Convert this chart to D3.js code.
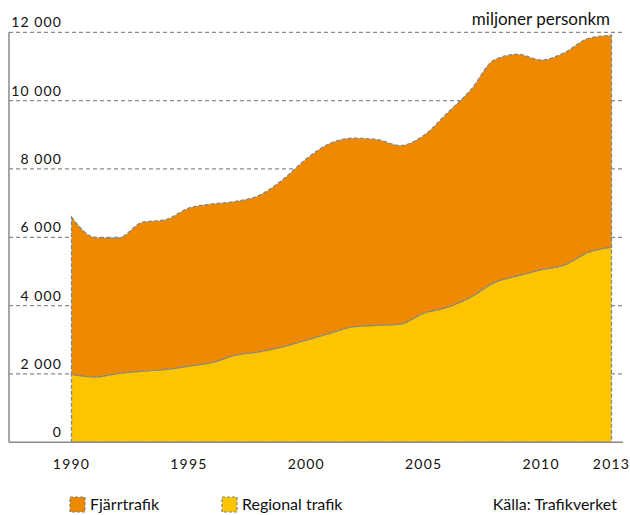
<!DOCTYPE html>
<html>
<head>
<meta charset="utf-8">
<script src="https://cdn.jsdelivr.net/npm/d3@7"></script>
<style>
  body { margin: 0; background: #fff; }
  text { font-family: Lato, "Open Sans", sans-serif; fill: #111; }
</style>
</head>
<body>
<div id="chart"></div>
<script>
// Data (miljoner personkm)
const years = d3.range(1990, 2014);
const regional = [1986, 1917, 2015, 2083, 2132, 2230, 2338, 2553, 2650, 2796, 2993, 3189,
  3383, 3424, 3462, 3776, 3952, 4246, 4675, 4871, 5047, 5194, 5555, 5713];
const total = [6593, 5995, 5977, 6435, 6514, 6857, 6975, 7051, 7227, 7688, 8295, 8744,
  8900, 8862, 8685, 8979, 9630, 10308, 11189, 11356, 11189, 11405, 11816, 11913];
const fjarr = total.map((t, i) => t - regional[i]);
const yTicks = [0, 2000, 4000, 6000, 8000, 10000, 12000];
const xTicks = [1990, 1995, 2000, 2005, 2010, 2013];
const seriesNames = ["Regional trafik", "Fjärrtrafik"];
const colors = { "Regional trafik": "#fdc500", "Fjärrtrafik": "#ef8a00" };

const W = 630, H = 515;
const plotLeft = 9, plotRight = 623, plotTop = 32.3, plotBottom = 442.3;

const svg = d3.select("#chart").append("svg").attr("width", W).attr("height", H);

const x = d3.scaleLinear().domain([1990, 2013]).range([71.5, 611.5]);
const y = d3.scaleLinear().domain([0, 12000]).range([plotBottom, plotTop]);

const table = years.map((yr, i) => ({ year: yr, "Regional trafik": regional[i], "Fjärrtrafik": fjarr[i] }));
const stack = d3.stack().keys(seriesNames)(table);

// Gridlines
svg.append("g")
  .selectAll("line")
  .data(yTicks.filter(d => d > 0))
  .join("line")
  .attr("x1", plotLeft).attr("x2", plotRight)
  .attr("y1", d => y(d)).attr("y2", d => y(d))
  .attr("stroke", "#8a8a8a")
  .attr("stroke-width", 1.2)
  .attr("stroke-dasharray", "4,3");

// Areas
const area = d3.area()
  .x(d => x(d.data.year))
  .y0(d => y(d[0]))
  .y1(d => y(d[1]))
  .curve(d3.curveMonotoneX);

svg.append("g")
  .selectAll("path")
  .data(stack)
  .join("path")
  .attr("d", area)
  .attr("fill", d => colors[d.key])
  .attr("stroke", "#7f8790")
  .attr("stroke-width", 1.3)
  .attr("stroke-dasharray", "4,2");

// Axis lines
svg.append("line")
  .attr("x1", plotLeft).attr("x2", plotLeft).attr("y1", plotTop).attr("y2", plotBottom)
  .attr("stroke", "#8a8a8a").attr("stroke-width", 1.5);
svg.append("line")
  .attr("x1", plotLeft).attr("x2", plotRight).attr("y1", plotBottom).attr("y2", plotBottom)
  .attr("stroke", "#8a8a8a").attr("stroke-width", 1.5);

// Y labels
svg.append("g")
  .selectAll("text")
  .data(yTicks)
  .join("text")
  .attr("x", 62)
  .attr("y", d => y(d) - 5)
  .attr("text-anchor", "end")
  .attr("font-size", 14)
  .attr("letter-spacing", 1.1)
  .text(d => d === 0 ? "0" : d3.format(",")(d).replace(/,/g, " "));

// X labels
svg.append("g")
  .selectAll("text")
  .data(xTicks)
  .join("text")
  .attr("x", d => x(d))
  .attr("y", 469)
  .attr("text-anchor", "middle")
  .attr("font-size", 14)
  .attr("letter-spacing", 1.2)
  .text(d => d);

// Unit
svg.append("text")
  .attr("x", 610).attr("y", 25)
  .attr("text-anchor", "end")
  .attr("font-size", 17)
  .text("miljoner personkm");

// Legend
const legend = [
  { name: "Fjärrtrafik", x: 70 },
  { name: "Regional trafik", x: 222 }
];
const lg = svg.append("g").selectAll("g").data(legend).join("g")
  .attr("transform", d => `translate(${d.x},497)`);
lg.append("rect")
  .attr("width", 15).attr("height", 15)
  .attr("fill", d => colors[d.name])
  .attr("stroke", "#7f8790").attr("stroke-width", 1.2)
  .attr("stroke-dasharray", "3,2");
lg.append("text")
  .attr("x", 20).attr("y", 13)
  .attr("font-size", 16)
  .text(d => d.name);

svg.append("text")
  .attr("x", 617).attr("y", 510)
  .attr("text-anchor", "end")
  .attr("font-size", 16)
  .text("Källa: Trafikverket");
</script>
</body>
</html>
